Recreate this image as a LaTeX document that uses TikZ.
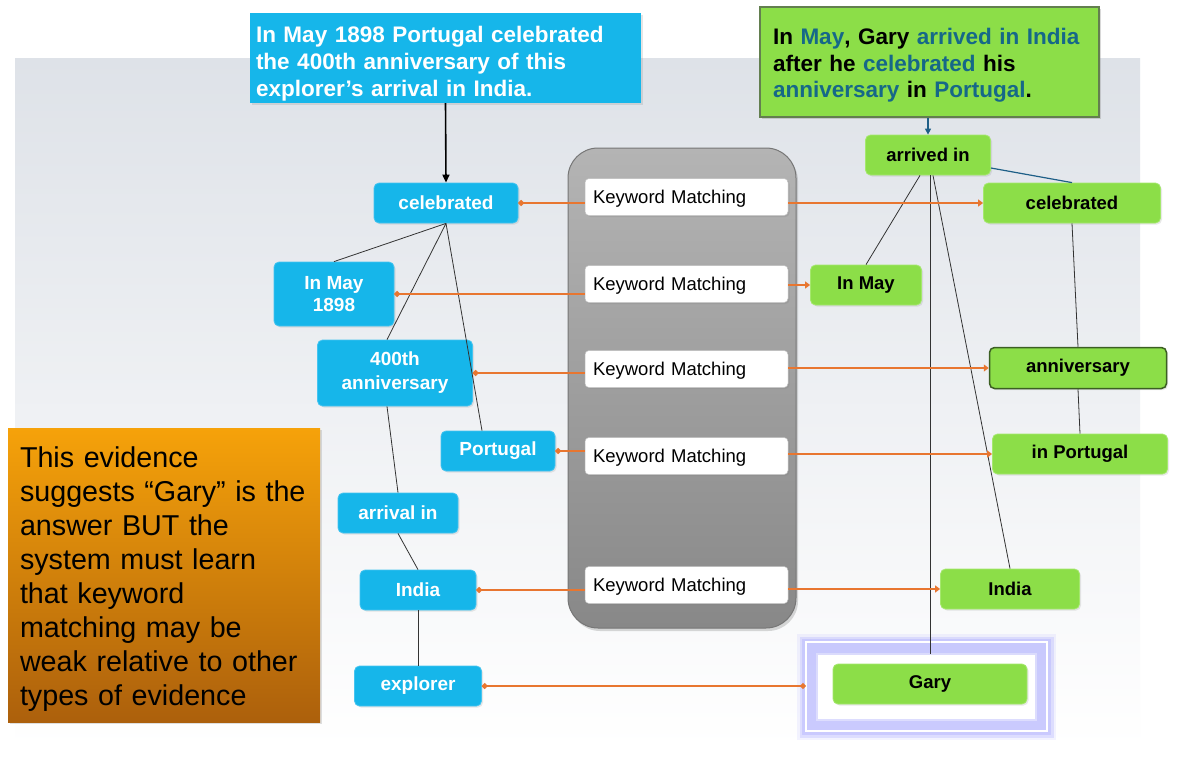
\documentclass[tikz,border=0pt]{standalone}
\usepackage{fontspec}
\setmainfont{Liberation Sans}
\usetikzlibrary{shadows,arrows.meta}
\definecolor{cyanB}{RGB}{22,182,234}
\definecolor{cyanL}{RGB}{70,196,240}
\definecolor{greenB}{RGB}{140,222,72}
\definecolor{greenL}{RGB}{165,232,110}
\definecolor{greenD}{RGB}{60,95,35}
\definecolor{tealw}{RGB}{22,104,136}
\definecolor{orangeL}{RGB}{232,118,48}
\definecolor{bgtop}{RGB}{222,226,232}
\definecolor{panelT}{RGB}{180,180,180}
\definecolor{panelB}{RGB}{136,136,136}
\definecolor{panelD}{RGB}{118,118,118}
\definecolor{orT}{RGB}{246,162,10}
\definecolor{orB}{RGB}{172,96,12}
\definecolor{glowC}{RGB}{175,175,255}
\definecolor{arrB}{RGB}{30,95,135}
\begin{document}
\begin{tikzpicture}[x=1pt,y=-1pt,
  sz/.style 2 args={minimum width=#1pt, minimum height=#2pt},
  bnode/.style={rectangle, rounded corners=5pt, fill=cyanB, draw=cyanL, line width=0.8pt, text=white,
     font=\bfseries\fontsize{19}{22}\selectfont, align=center, inner sep=0pt,
     drop shadow={opacity=0.18, shadow xshift=1.5pt, shadow yshift=-1.5pt}},
  gnode/.style={rectangle, rounded corners=5pt, fill=greenB, draw=greenL, line width=0.8pt, text=black,
     font=\bfseries\fontsize{18.5}{22}\selectfont, align=center, inner sep=0pt,
     drop shadow={opacity=0.18, shadow xshift=1.5pt, shadow yshift=-1.5pt}},
  kmbox/.style={rectangle, rounded corners=4pt, fill=white, draw=black!25, line width=0.5pt,
     font=\fontsize{18.5}{22}\selectfont, text width=187pt, align=left, inner xsep=8pt, inner ysep=0pt,
     minimum height=37pt, drop shadow={opacity=0.25, shadow xshift=1.5pt, shadow yshift=-1.5pt}},
  orl/.style={draw=orangeL, line width=2pt},
  ordd/.style={orl, {Circle[length=5.5pt]}-{Circle[length=5.5pt]}},
  ordt/.style={orl, -{Triangle[length=5pt,width=7pt]}},
  ordl/.style={orl, {Circle[length=5.5pt]}-},
  tree/.style={draw=black!80, line width=0.8pt}
]
\useasboundingbox (0,0) rectangle (1181,758);
\fill[white] (0,0) rectangle (1181,758);
\shade[top color=bgtop, bottom color=white] (15,58) rectangle (1140,748);

% gray panel
\node[rectangle, rounded corners=30pt, sz={228}{480}, top color=panelT, bottom color=panelB, draw=panelD,
  line width=1pt, drop shadow={opacity=0.3, shadow xshift=2pt, shadow yshift=-3pt}] (gp) at (682,388) {};

% top boxes
\node[rectangle, sz={391}{90}, fill=cyanB, text=white, font=\bfseries\fontsize{22.5}{27}\selectfont,
  text width=379pt, align=left, inner xsep=6pt, inner ysep=0pt,
  drop shadow={opacity=0.2, shadow xshift=2pt, shadow yshift=-2pt}] (q) at (445.5,58)
  {\rule{0pt}{27pt}In May 1898 Portugal celebrated\\the 400th anniversary of this\\explorer’s arrival in India.};
\node[rectangle, sz={339}{110}, fill=greenB, draw=greenD!80, line width=1.2pt, text=black,
  font=\bfseries\fontsize{22.5}{26.5}\selectfont, text width=313pt, align=left, inner xsep=13pt, inner ysep=0pt,
  drop shadow={opacity=0.3, shadow xshift=2pt, shadow yshift=-2pt}] (p) at (929.5,62)
  {\rule{0pt}{23pt}In \textcolor{tealw}{May}, Gary \textcolor{tealw}{arrived in India}\\after he \textcolor{tealw}{celebrated} his\\\textcolor{tealw}{anniversary} in \textcolor{tealw}{Portugal}.};

% orange note
\node[rectangle, sz={312}{294}, top color=orT, bottom color=orB, text=black,
  font=\fontsize{28.7}{34}\selectfont, text width=294pt, align=left, inner xsep=9pt, inner ysep=0pt,
  drop shadow={opacity=0.25, shadow xshift=2pt, shadow yshift=-2pt}] (note) at (164,575)
  {\rule{0pt}{28pt}\hspace*{3pt}This evidence\\\hspace*{3pt}suggests “Gary” is the\\\hspace*{3pt}answer BUT the\\\hspace*{3pt}system must learn\\\hspace*{3pt}that keyword\\\hspace*{3pt}matching may be\\\hspace*{3pt}weak relative to other\\\hspace*{3pt}types of evidence};

% left blue nodes
\node[bnode, sz={144}{40}] (lcel) at (446,203) {celebrated};
\node[bnode, sz={120}{64}] (lmay) at (334,294) {In May\\1898};
\node[bnode, sz={155}{66}, font=\bfseries\fontsize{19}{24}\selectfont] (lann) at (395,373) {400th\\anniversary};
\node[bnode, sz={114}{40}] (lpor) at (498,451) {Portugal};
\node[bnode, sz={120}{40}] (larr) at (398,513) {arrival in};
\node[bnode, sz={116}{40}] (lind) at (418,590) {India};
\node[bnode, sz={127}{40}] (lexp) at (418,686) {explorer};

% keyword matching boxes
\node[kmbox] (k1) at (686.5,197) {\rule{0pt}{17pt}Keyword Matching};
\node[kmbox] (k2) at (686.5,284) {\rule{0pt}{17pt}Keyword Matching};
\node[kmbox] (k3) at (686.5,369) {\rule{0pt}{17pt}Keyword Matching};
\node[kmbox] (k4) at (686.5,456) {\rule{0pt}{17pt}Keyword Matching};
\node[kmbox] (k5) at (686.5,585) {\rule{0pt}{17pt}Keyword Matching};

% glow around Gary
\draw[glowC, line width=24pt, opacity=0.15] (809,646) rectangle (1044,728);
\draw[glowC, line width=19pt, opacity=0.3] (809,646) rectangle (1044,728);
\draw[glowC, line width=14pt, opacity=0.4] (809,646) rectangle (1044,728);
\fill[white] (818,655) rectangle (1035,719);
\draw[white, line width=1.5pt] (806,642) rectangle (1047,731);
\node[rectangle, sz={241}{89}, inner sep=0pt] (glowbox) at (926.5,686.5) {};

% right green nodes
\node[gnode, sz={125}{40}] (rarr) at (928,155) {arrived in};
\node[gnode, sz={177}{40}] (rcel) at (1072,203) {celebrated};
\node[gnode, sz={111}{40}] (rmay) at (866,285) {In May};
\node[gnode, sz={177}{41}, draw=greenD, line width=1.5pt] (rann) at (1078,368) {anniversary};
\node[gnode, sz={175}{40}] (rpor) at (1080,454) {in Portugal};
\node[gnode, sz={139}{40}] (rind) at (1010,589) {India};
\node[gnode, sz={194}{40}] (rgary) at (930,684) {Gary};

% arrows from questions
\draw[black, line width=1.6pt, -{Triangle[length=8pt,width=7pt]}] (q.south) -- (lcel.north);
\draw[arrB, line width=1.3pt, -{Triangle[length=6pt,width=6pt]}] (p.south -| rarr.north) -- (rarr.north);

% left tree
\draw[tree] (lcel.south) -- (lmay.north);
\draw[tree] (lcel.south) -- ([xshift=-8pt]lann.north);
\draw[tree] (lcel.south) -- ([xshift=-16pt]lpor.north);
\draw[tree] ([xshift=-8pt]lann.south) -- (larr.north);
\draw[tree] (larr.south) -- (lind.north);
\draw[tree] (lind.south) -- (lexp.north);

% right tree
\draw[tree] ([xshift=-8pt]rarr.south) -- (rmay.north);
\draw[tree] ([xshift=2pt]rarr.south) -- ([yshift=10pt]rgary.north);
\draw[tree] ([xshift=5pt]rarr.south) -- (rind.north);
\draw[draw=arrB, line width=1.2pt] ([yshift=-13pt]rarr.east) -- (rcel.north);
\draw[tree] (rcel.south) -- (rann.north);
\draw[tree] (rann.south) -- (rpor.north);

% keyword matching connectors
\draw[ordl] (lcel.east) -- (lcel.east -| k1.west);
\draw[ordt] (k1.east |- rcel.west) -- (rcel.west);
\draw[ordl] (lmay.east) -- (lmay.east -| k2.west);
\draw[ordt] (k2.east |- rmay.west) -- (rmay.west);
\draw[ordl] (lann.east) -- (lann.east -| k3.west);
\draw[ordt] (k3.east |- rann.west) -- (rann.west);
\draw[ordl] (lpor.east) -- (lpor.east -| k4.west);
\draw[ordt] (k4.east |- rpor.west) -- (rpor.west);
\draw[ordl] (lind.east) -- (lind.east -| k5.west);
\draw[ordt] (k5.east |- rind.west) -- (rind.west);
\draw[ordd] (lexp.east) -- (lexp.east -| glowbox.west);
\end{tikzpicture}
\end{document}
